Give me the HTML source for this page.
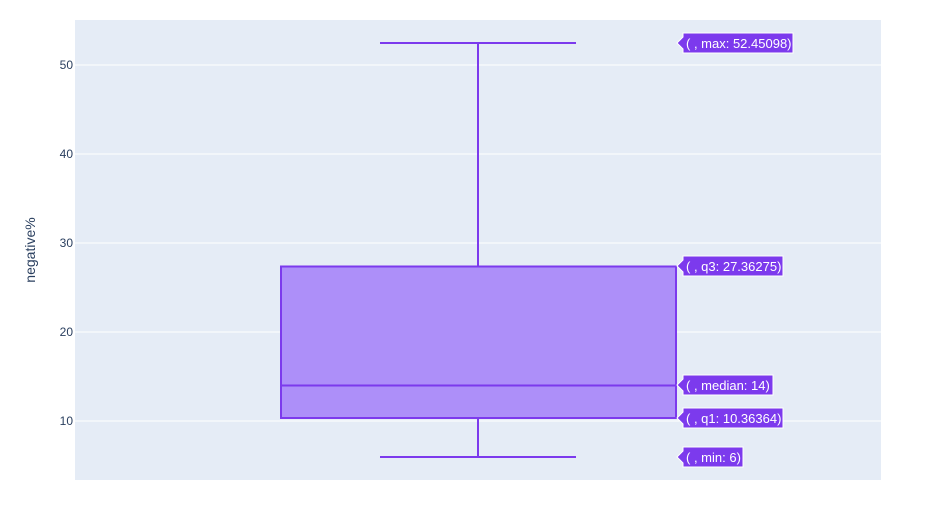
<!DOCTYPE html>
<html><head><style>body{margin:0;background:#fff}</style></head><body>
<svg width="941" height="504" xmlns="http://www.w3.org/2000/svg" font-family="Liberation Sans, sans-serif">
<rect x="75" y="20" width="806" height="460" fill="#e5ecf6"/>
<g stroke="#fff" stroke-width="1">
<line x1="75" x2="881" y1="65" y2="65"/><line x1="75" x2="881" y1="154" y2="154"/>
<line x1="75" x2="881" y1="243" y2="243"/><line x1="75" x2="881" y1="332" y2="332"/>
<line x1="75" x2="881" y1="421" y2="421"/>
</g>
<g font-size="12" fill="#2a3f5f" text-anchor="end">
<text x="73" y="69">50</text><text x="73" y="158">40</text><text x="73" y="247">30</text><text x="73" y="336">20</text><text x="73" y="425">10</text>
</g>
<text transform="translate(35,250) rotate(-90)" font-size="14" fill="#2a3f5f" text-anchor="middle">negative%</text>
<g stroke="#7c3aed" stroke-width="2" fill="none">
<line x1="478" x2="478" y1="43" y2="266"/><line x1="478" x2="478" y1="418" y2="457"/>
<line x1="380" x2="576" y1="43" y2="43"/><line x1="380" x2="576" y1="457" y2="457"/>
<rect x="281" y="266.5" width="395" height="151.5" fill="#ad8ff9"/>
<line x1="281" x2="676" y1="385.5" y2="385.5"/>
</g>
<g font-size="13" fill="#fff">
<g><path d="M677 43 L683 37 V33 H793 V53 H683 V49 Z" fill="#7c3aed" stroke="#fff"/><text x="686" y="48">( , max: 52.45098)</text></g>
<g><path d="M677 266 L683 260 V256 H783 V276 H683 V272 Z" fill="#7c3aed" stroke="#fff"/><text x="686" y="271">( , q3: 27.36275)</text></g>
<g><path d="M677 385 L683 379 V375 H773 V395 H683 V391 Z" fill="#7c3aed" stroke="#fff"/><text x="686" y="390">( , median: 14)</text></g>
<g><path d="M677 418 L683 412 V408 H783 V428 H683 V424 Z" fill="#7c3aed" stroke="#fff"/><text x="686" y="423">( , q1: 10.36364)</text></g>
<g><path d="M677 457 L683 451 V447 H743 V467 H683 V463 Z" fill="#7c3aed" stroke="#fff"/><text x="686" y="462">( , min: 6)</text></g>
</g>
</svg>
</body></html>
